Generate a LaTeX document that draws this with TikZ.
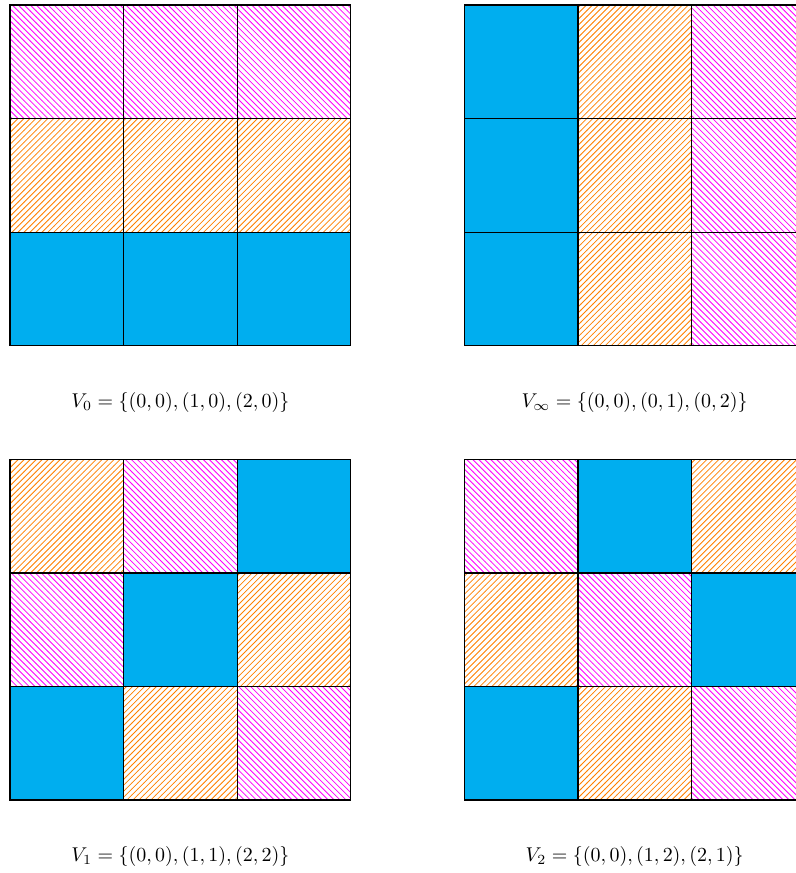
\documentclass[tikz,border=0pt]{standalone}
\usetikzlibrary{patterns}
\definecolor{vblue}{RGB}{0,174,239}
\definecolor{vorange}{RGB}{255,128,0}
\definecolor{vmag}{RGB}{255,0,255}
\tikzset{
  cellblue/.style={fill=vblue},
  cellorange/.style={pattern=north east lines, pattern color=vorange},
  cellmag/.style={pattern=north west lines, pattern color=vmag},
  gridline/.style={draw=black, line width=0.6pt},
  setlabel/.style={inner sep=0pt}
}
\newcommand\vgrid[5]{%
  \begin{scope}[shift={(#1,#2)}]
    \foreach \x/\y in {#3} {\path[cellblue] (2*\x,2*\y) rectangle ++(2,2);}
    \foreach \x/\y in {#4} {\path[cellorange] (2*\x,2*\y) rectangle ++(2,2);}
    \foreach \x/\y in {#5} {\path[cellmag] (2*\x,2*\y) rectangle ++(2,2);}
    \draw[gridline] (0,0) grid[step=2] (6,6);
    \draw[gridline] (0,0) rectangle (6,6);
  \end{scope}}
\begin{document}
\begin{tikzpicture}
\useasboundingbox (-0.176,-1.284) rectangle (13.824,14.088);
% V0
\vgrid{0}{8}{0/0,1/0,2/0}{0/1,1/1,2/1}{0/2,1/2,2/2}
% V infinity
\vgrid{8}{8}{0/0,0/1,0/2}{1/0,1/1,1/2}{2/0,2/1,2/2}
% V1
\vgrid{0}{0}{0/0,1/1,2/2}{1/0,2/1,0/2}{2/0,0/1,1/2}
% V2
\vgrid{8}{0}{0/0,1/2,2/1}{0/1,1/0,2/2}{0/2,1/1,2/0}
\node[setlabel] (l0) at (3,7) {$V_0 = \{(0,0),(1,0),(2,0)\}$};
\node[setlabel] (linf) at (11,7) {$V_\infty = \{(0,0),(0,1),(0,2)\}$};
\node[setlabel] (l1) at (3,-1) {$V_1 = \{(0,0),(1,1),(2,2)\}$};
\node[setlabel] (l2) at (11,-1) {$V_2 = \{(0,0),(1,2),(2,1)\}$};
\end{tikzpicture}
\end{document}
